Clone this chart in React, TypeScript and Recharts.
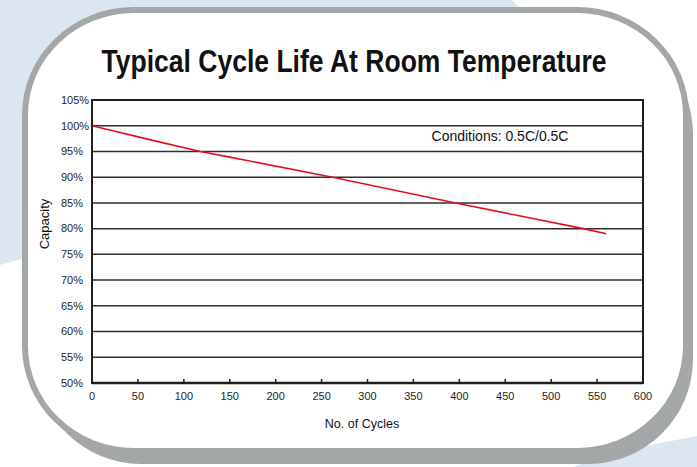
import React from "react";
import { LineChart, Line, XAxis, YAxis, CartesianGrid, ReferenceArea } from "recharts";

// ---- data ----
const cycles = [0, 65, 118, 150, 262, 396, 535, 560];
const capacity = [100, 97.2, 95, 93.9, 90, 85, 80, 79];
const xTicks = [0, 50, 100, 150, 200, 250, 300, 350, 400, 450, 500, 550, 600];
const yTicks = [50, 55, 60, 65, 70, 75, 80, 85, 90, 95, 100, 105];
const title = "Typical Cycle Life At Room Temperature";
const conditionsText = "Conditions: 0.5C/0.5C";
const xTitle = "No. of Cycles";
const yTitle = "Capacity";

const data = cycles.map((c, i) => ({ cycle: c, capacity: capacity[i] }));

const W = 697;
const H = 467;
const GRAY = "#a3a7a8";
const BLUE = "#dce6f1";
const INK = "#1e1e1e";
const X_MARGIN = 9;
const FONT = "'Liberation Sans', Arial, Helvetica, sans-serif";

const XTick = (props: any) => {
  const { x, y, payload } = props;
  const axisY = y - X_MARGIN;
  return (
    <g>
      <line x1={x} x2={x} y1={axisY} y2={axisY - 4} stroke={INK} strokeWidth={1.5} />
      <text x={x} y={y} dy="0.71em" textAnchor="middle" fontSize={11} fontFamily={FONT} fill={INK}>
        {payload.value}
      </text>
    </g>
  );
};

const YTick = (props: any) => {
  const { y, payload } = props;
  return (
    <text x={61} y={y} dy="0.35em" textAnchor="start" fontSize={11} fontFamily={FONT} fill={INK}>
      {payload.value}%
    </text>
  );
};

export default function App() {
  return (
    <div style={{ position: "absolute", left: 0, top: 0, width: W, height: H, background: "#fff", overflow: "hidden" }}>
      {/* background decoration + card */}
      <svg width={W} height={H} style={{ position: "absolute", left: 0, top: 0 }}>
        <rect x={0} y={0} width={W} height={H} fill="#fff" />
        <polygon points="0,0 512,0 600,97 0,265" fill={BLUE} />
        <polygon points="572,467 655,444 697,436 697,467" fill={BLUE} />
        {/* shadow */}
        <rect x={36} y={29} width={657} height={435} rx={105} ry={105} fill={GRAY} />
        {/* border */}
        <rect x={22} y={7} width={667} height={447} rx={112} ry={108} fill={GRAY} />
        {/* card */}
        <rect x={28} y={13} width={655} height={435} rx={106} ry={102} fill="#fff" />
      </svg>

      <LineChart
        width={W}
        height={H}
        data={data}
        margin={{ top: 100, right: 54, bottom: 54, left: 61 }}
        style={{ position: "absolute", left: 0, top: 0 }}
      >
        <CartesianGrid vertical={false} stroke="#2e2e2e" strokeWidth={1.5} />
        <ReferenceArea
          x1={0}
          x2={600}
          y1={50}
          y2={105}
          fill="none"
          fillOpacity={0}
          stroke={INK}
          strokeWidth={2}
          ifOverflow="visible"
        />
        <XAxis
          dataKey="cycle"
          type="number"
          domain={[0, 600]}
          ticks={xTicks}
          interval={0}
          height={30}
          tickSize={0}
          tickMargin={X_MARGIN}
          tickLine={false}
          axisLine={{ stroke: INK, strokeWidth: 2.5 }}
          tick={<XTick />}
        />
        <YAxis
          type="number"
          domain={[50, 105]}
          ticks={yTicks}
          interval={0}
          width={31}
          tickLine={false}
          axisLine={{ stroke: INK, strokeWidth: 2 }}
          tick={<YTick />}
        />
        <Line
          type="linear"
          dataKey="capacity"
          stroke="#e3101d"
          strokeWidth={1.6}
          dot={false}
          isAnimationActive={false}
        />
      </LineChart>

      {/* texts */}
      <svg width={W} height={H} style={{ position: "absolute", left: 0, top: 0, pointerEvents: "none" }}>
        <text
          x={354}
          y={72}
          textAnchor="middle"
          fontSize={31}
          fontWeight="bold"
          fontFamily={FONT}
          fill="#111"
          textLength={505}
          lengthAdjust="spacingAndGlyphs"
        >
          {title}
        </text>
        <text x={500} y={141} textAnchor="middle" fontSize={14} fontFamily={FONT} fill="#111">
          {conditionsText}
        </text>
        <text x={362} y={428} textAnchor="middle" fontSize={12.5} fontFamily={FONT} fill="#111">
          {xTitle}
        </text>
        <text
          x={49}
          y={224}
          textAnchor="middle"
          fontSize={13}
          fontFamily={FONT}
          fill="#111"
          transform="rotate(-90 49 224)"
        >
          {yTitle}
        </text>
      </svg>
    </div>
  );
}
